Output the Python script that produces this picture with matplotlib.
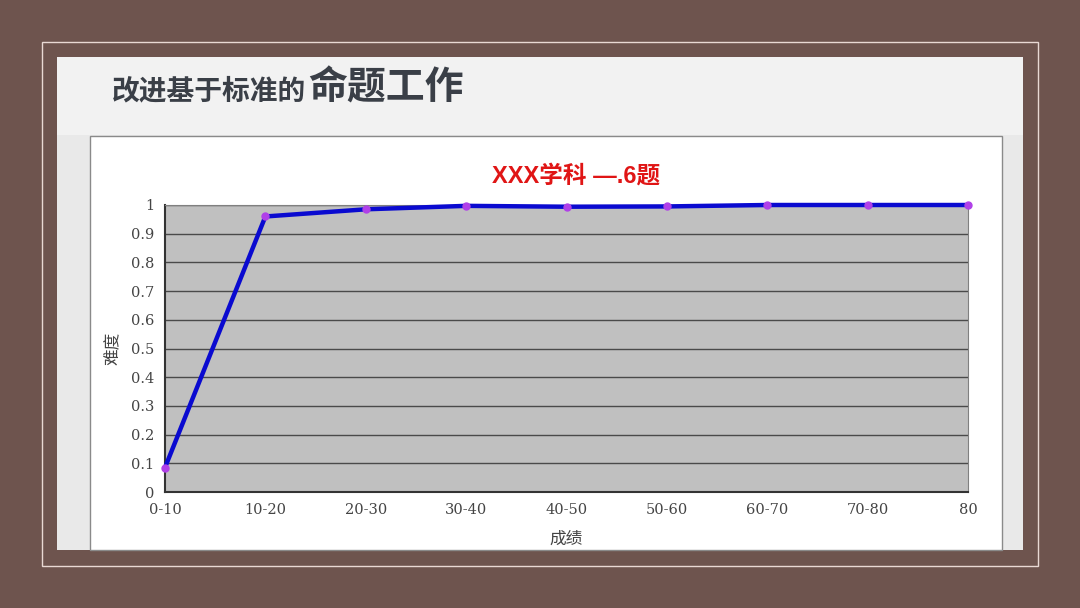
import matplotlib.pyplot as plt
from matplotlib.patches import Rectangle

plt.rcParams['font.family'] = ['Noto Sans CJK SC', 'DejaVu Sans']

# data
categories = ["0-10", "10-20", "20-30", "30-40", "40-50", "50-60", "60-70", "70-80", "80"]
difficulty = [0.085, 0.96, 0.985, 0.997, 0.994, 0.995, 1.0, 1.0, 1.0]
y_ticks = [0, 0.1, 0.2, 0.3, 0.4, 0.5, 0.6, 0.7, 0.8, 0.9, 1]
y_tick_labels = ["0", "0.1", "0.2", "0.3", "0.4", "0.5", "0.6", "0.7", "0.8", "0.9", "1"]

W, H = 1080, 608
fig = plt.figure(figsize=(W / 100, H / 100), dpi=100)
fig.patch.set_facecolor("#6e544e")


def box(x0, y0, x1, y1, **kw):
    # pixel coords (top-left origin) -> figure fraction
    r = Rectangle((x0 / W, 1 - y1 / H), (x1 - x0) / W, (y1 - y0) / H,
                  transform=fig.transFigure, zorder=-5, **kw)
    fig.add_artist(r)
    return r


# thin light frame line
box(42, 42, 1038, 566, facecolor="none", edgecolor="#e9d9d4", lw=1.0)
# slide
box(57, 57, 1023, 550, facecolor="#e9e9e9", edgecolor="none")
box(57, 57, 1023, 135, facecolor="#f2f2f2", edgecolor="none")
# chart box
box(90, 136, 1002, 550, facecolor="white", edgecolor="#8a8a8a", lw=1.0)

# slide title
fig.text(112 / W, 1 - 91 / H, "改进基于标准的", fontsize=20, fontweight="bold",
         color="#3a3f47", ha="left", va="center")
fig.text(308 / W, 1 - 88 / H, "命题工作", fontsize=28, fontweight="bold",
         color="#3a3f47", ha="left", va="center")

ax = fig.add_axes([165 / W, 1 - 492 / H, (968 - 165) / W, (492 - 205) / H])
ax.set_facecolor("#c0c0c0")
x = list(range(len(categories)))
ax.plot(x, difficulty, color="#0a0ad0", lw=3.2, zorder=3, clip_on=False)
ax.plot(x, difficulty, "o", color="#b040e8", ms=5, zorder=4, clip_on=False)

ax.set_xlim(0, len(categories) - 1)
ax.set_ylim(0, 1)
ax.set_yticks(y_ticks)
ax.set_yticklabels(y_tick_labels, family=["DejaVu Serif"], fontsize=10.5, color="#444444")
ax.set_xticks(x)
ax.set_xticklabels(categories, family=["DejaVu Serif"], fontsize=10.5, color="#444444")
ax.yaxis.grid(True, color="#4a4a4a", lw=1.0)
ax.set_axisbelow(True)
ax.tick_params(axis="y", length=0, pad=8)
ax.tick_params(axis="x", length=0, pad=8)
for s in ["top", "right"]:
    ax.spines[s].set_color("#808080")
for s in ["left", "bottom"]:
    ax.spines[s].set_color("#333333")
    ax.spines[s].set_linewidth(1.5)

ax.set_title("XXX学科 —.6题", fontsize=17, fontweight="bold", color="#e01515", pad=16,
             family=["Liberation Sans", "Noto Sans CJK SC"])
ax.title.set_x(0.512)
ax.set_ylabel("难度", fontsize=12, color="#444444", labelpad=6)
ax.set_xlabel("成绩", fontsize=12, color="#444444", labelpad=10)

fig.savefig("out.png", dpi=100, facecolor=fig.get_facecolor())
